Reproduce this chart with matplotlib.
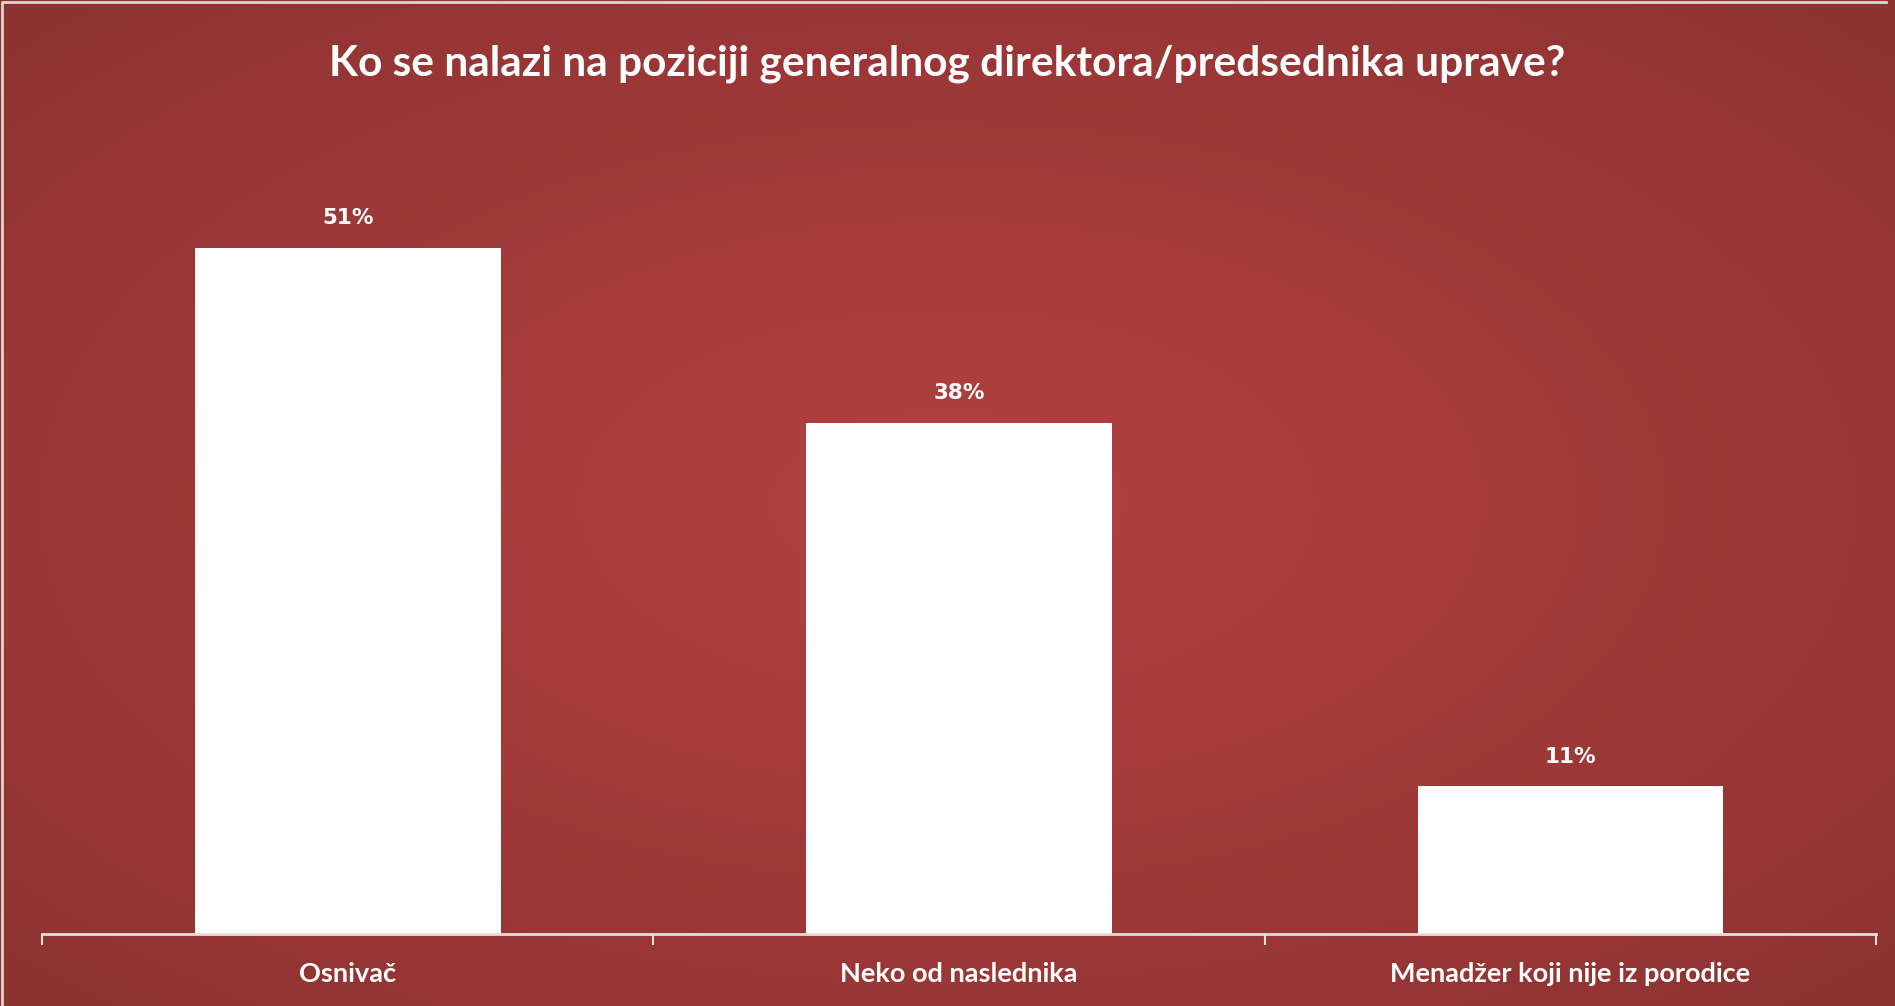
import numpy as np
import matplotlib.pyplot as plt

categories = ['Osnivač', 'Neko od naslednika', 'Menadžer koji nije iz porodice']
values = [51, 38, 11]
value_labels = ['51%', '38%', '11%']
title = 'Ko se nalazi na poziciji generalnog direktora/predsednika uprave?'

fig = plt.figure(figsize=(18.95, 10.06), dpi=100)

# radial gradient background
bg = fig.add_axes([0, 0, 1, 1], zorder=0)
yy, xx = np.mgrid[0:1:400j, 0:1:760j]
r = np.sqrt(((xx - 0.5) / 0.75) ** 2 + ((yy - 0.5) / 0.75) ** 2)
r = np.clip(r / 0.95, 0, 1)
inner = np.array([180, 65, 65]) / 255
outer = np.array([140, 50, 49]) / 255
img = inner[None, None, :] * (1 - r[..., None]) + outer[None, None, :] * r[..., None]
bg.imshow(img, extent=[0, 1, 0, 1], aspect='auto', origin='lower')
bg.plot([0.001, 0.001, 0.995], [0, 0.998, 0.998], color='#ddd6cc', lw=2)
bg.set_xlim(0, 1)
bg.set_ylim(0, 1)
bg.set_axis_off()

ax = fig.add_axes([0.0222, 0.0716, 0.9678, 0.8024], zorder=1)
ax.patch.set_alpha(0)
x = np.arange(len(categories))
bars = ax.bar(x, values, width=0.5, color='white', edgecolor='none')
ax.set_xlim(-0.5, len(categories) - 0.5)
ax.set_ylim(0, 60)

for b, lab in zip(bars, value_labels):
    ax.annotate(lab, (b.get_x() + b.get_width() / 2, b.get_height()),
                xytext=(0, 14), textcoords='offset points', ha='center', va='bottom',
                color='white', fontsize=15.5, fontweight='bold', family='DejaVu Sans')

for s in ['top', 'right', 'left']:
    ax.spines[s].set_visible(False)
ax.spines['bottom'].set_color('#e6ddd6')
ax.spines['bottom'].set_linewidth(2)
ax.set_yticks([])
ax.set_xticks([-0.5, 0.5, 1.5, 2.5])
ax.set_xticklabels([])
ax.tick_params(axis='x', length=8, width=1.5, color='#e6ddd6', direction='out')
ax.set_xticks(x, minor=True)
ax.set_xticklabels(categories, minor=True, color='white', fontsize=19.5,
                   fontweight='bold', family='Lato')
ax.tick_params(axis='x', which='minor', length=0, pad=20)

fig.text(0.5, 0.937, title, ha='center', va='center', color='white',
         fontsize=30.5, fontweight='bold', family='Lato')

fig.savefig('out.png', dpi=100)
